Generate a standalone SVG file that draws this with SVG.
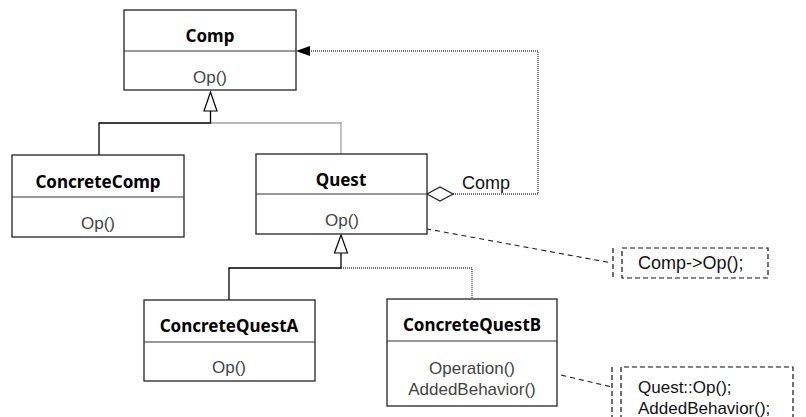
<svg xmlns="http://www.w3.org/2000/svg" width="806" height="417" viewBox="0 0 806 417">
<style>
.box{fill:#fff;stroke:#222;stroke-width:1.3}
.div{stroke:#333;stroke-width:1.2}
.t{font-family:"Noto Sans","Open Sans",sans-serif;font-size:17px;font-weight:bold;fill:#000;text-anchor:middle}
.m{font-family:"Liberation Sans",Arial,sans-serif;font-size:17px;fill:#444;text-anchor:middle}
.n{font-family:"Liberation Sans",Arial,sans-serif;font-size:17px;fill:#111}
.solid{fill:none;stroke:#000;stroke-width:1.3}
.dot{fill:none;stroke:#444;stroke-width:1.3;stroke-dasharray:1 1}
.dash{fill:none;stroke:#222;stroke-width:1.1;stroke-dasharray:5 4}
.nbox{fill:none;stroke:#111;stroke-width:1.2;stroke-dasharray:5 3}
</style>
<rect width="806" height="417" fill="#fff"/>
<g id="connectors">
<path class="solid" d="M99,155 V123 H210.5 V111"/>
<path class="dot" d="M210.5,123 H341 V154"/>
<polygon points="210.5,92 204,111 217,111" fill="#fff" stroke="#000" stroke-width="1.2"/>
<path class="solid" d="M229,300 V268 H341 V253"/>
<path class="dot" d="M341,268 H472 V299"/>
<polygon points="341,235 334.5,253 347.5,253" fill="#fff" stroke="#000" stroke-width="1.2"/>
<path class="dot" d="M453,194 H538 V51 H310"/>
<polygon points="296,51 310,46 310,56" fill="#000"/>
<polygon points="427,194 440,187 453,194 440,201" fill="#fff" stroke="#222" stroke-width="1.2"/>
<text class="n" x="462" y="189" style="font-size:18px">Comp</text>
<path class="dash" d="M373,219 L612,263"/>
<path class="dash" d="M535,369 L612,387"/>
</g>
<g id="Comp">
<rect class="box" x="124" y="10" width="172" height="80"/>
<line class="div" x1="124" y1="51" x2="296" y2="51"/>
<text class="t" x="210" y="42">Comp</text>
<text class="m" x="210" y="83">Op()</text>
</g>
<g id="ConcreteComp">
<rect class="box" x="12" y="155" width="172" height="82"/>
<line class="div" x1="12" y1="197" x2="184" y2="197"/>
<text class="t" x="98" y="188">ConcreteComp</text>
<text class="m" x="98" y="229">Op()</text>
</g>
<g id="Quest">
<rect class="box" x="256" y="154" width="171" height="80"/>
<line class="div" x1="256" y1="194" x2="427" y2="194"/>
<text class="t" x="341" y="186">Quest</text>
<text class="m" x="342" y="226">Op()</text>
</g>
<g id="ConcreteQuestA">
<rect class="box" x="144" y="300" width="171" height="81"/>
<line class="div" x1="144" y1="342" x2="315" y2="342"/>
<text class="t" x="229" y="332">ConcreteQuestA</text>
<text class="m" x="229" y="373">Op()</text>
</g>
<g id="ConcreteQuestB">
<rect class="box" x="387" y="299" width="170" height="107"/>
<line class="div" x1="387" y1="341" x2="557" y2="341"/>
<text class="t" x="472" y="331">ConcreteQuestB</text>
<text class="m" x="472" y="374">Operation()</text>
<text class="m" x="472" y="394.5">AddedBehavior()</text>
</g>
<g id="note1">
<line class="nbox" x1="613" y1="248" x2="613" y2="279"/>
<rect class="nbox" x="622" y="248" width="146" height="30"/>
<text class="n" x="638" y="269" style="font-size:18px">Comp-&gt;Op();</text>
</g>
<g id="note2">
<line class="nbox" x1="612" y1="367" x2="612" y2="417"/>
<path class="nbox" d="M621,420 V367 H793 V420"/>
<text class="n" x="638" y="393">Quest::Op();</text>
<text class="n" x="638" y="413.5">AddedBehavior();</text>
</g>
</svg>
